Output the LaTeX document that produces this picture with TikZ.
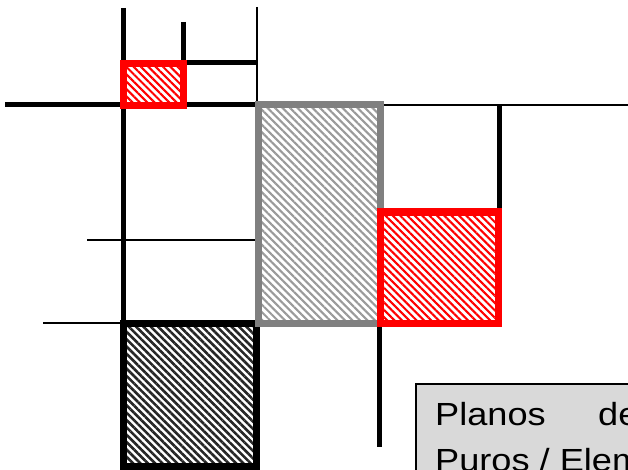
\documentclass[tikz,border=0pt]{standalone}
\usepackage{fontspec}
\newfontfamily\lab{Liberation Sans}
\usetikzlibrary{patterns.meta}
\definecolor{boxgray}{HTML}{808080}
\definecolor{hatchgray}{HTML}{9A9A9A}
\definecolor{notefill}{HTML}{D9D9D9}
\tikzset{
  thickline/.style={line width=5pt, black},
  thinline/.style={line width=1.8pt, black},
  hairline/.style={line width=1.4pt, black},
  redbox/.style={draw=red, line width=7pt, pattern={Lines[angle=-45,distance=5.2pt,line width=2.1pt]}, pattern color=red},
  graybox/.style={draw=boxgray, line width=7pt, pattern={Lines[angle=-45,distance=5.3pt,line width=2.1pt]}, pattern color=hatchgray},
  blackbox/.style={draw=black, line width=7pt, pattern={Lines[angle=-45,distance=5.2pt,line width=2.6pt]}, pattern color=black!85},
  notebox/.style={draw=black, line width=1.5pt, fill=notefill},
  labtext/.style={inner sep=0pt, anchor=base west, font=\lab\fontsize{32}{38}\selectfont},
}
\begin{document}
\begin{tikzpicture}[x=1pt, y=-1pt]
\useasboundingbox (0,0) rectangle (628,470);
\clip (0,0) rectangle (628,470);
% coordinates
\coordinate (v1t) at (123,8);
\coordinate (v1b) at (123,470);
\coordinate (v2t) at (183,22);
\coordinate (v2b) at (183,63);
\coordinate (h1r) at (257,63);
\coordinate (v3t) at (257,7);
\coordinate (v3b) at (257,105);
\coordinate (h2l) at (5,105);
\coordinate (h3l) at (378,105);
\coordinate (h3r) at (628,105);
\coordinate (v4t) at (499,105);
\coordinate (v4b) at (499,212);
\coordinate (h4l) at (87,240);
\coordinate (h4r) at (257,240);
\coordinate (h5l) at (43,323);
\coordinate (h5r) at (123,323);
\coordinate (v5t) at (379,323);
\coordinate (v5b) at (379,447);
% lines
\draw[thickline] (v1t) -- (v1b);
\draw[thickline] (v2t) -- (v2b) -- (h1r);
\draw[hairline] (v3t) -- (v3b);
\draw[thickline] (h2l) -- (v3b);
\draw[thinline] (h3l) -- (h3r);
\draw[thickline] (v4t) -- (v4b);
\draw[thinline] (h4l) -- (h4r);
\draw[thinline] (h5l) -- (h5r);
\draw[thickline] (v5t) -- (v5b);
% boxes
\path[blackbox] (123,323) rectangle (256,466);
\path[graybox] (258,105) rectangle (380,323);
\path[redbox] (123,64) rectangle (183,106);
\path[redbox] (380,212) rectangle (498,323);
% note
\path[notebox] (416,384) rectangle (660,500);
\node[labtext] (p1) at (435,425) {\scalebox{1.13}[1]{Planos}};
\node[labtext] (p2) at (598,425) {\scalebox{1.13}[1]{de}};
\node[labtext] (p3) at (435,471) {\scalebox{1.13}[1]{Puros / Elementos}};
\end{tikzpicture}
\end{document}
